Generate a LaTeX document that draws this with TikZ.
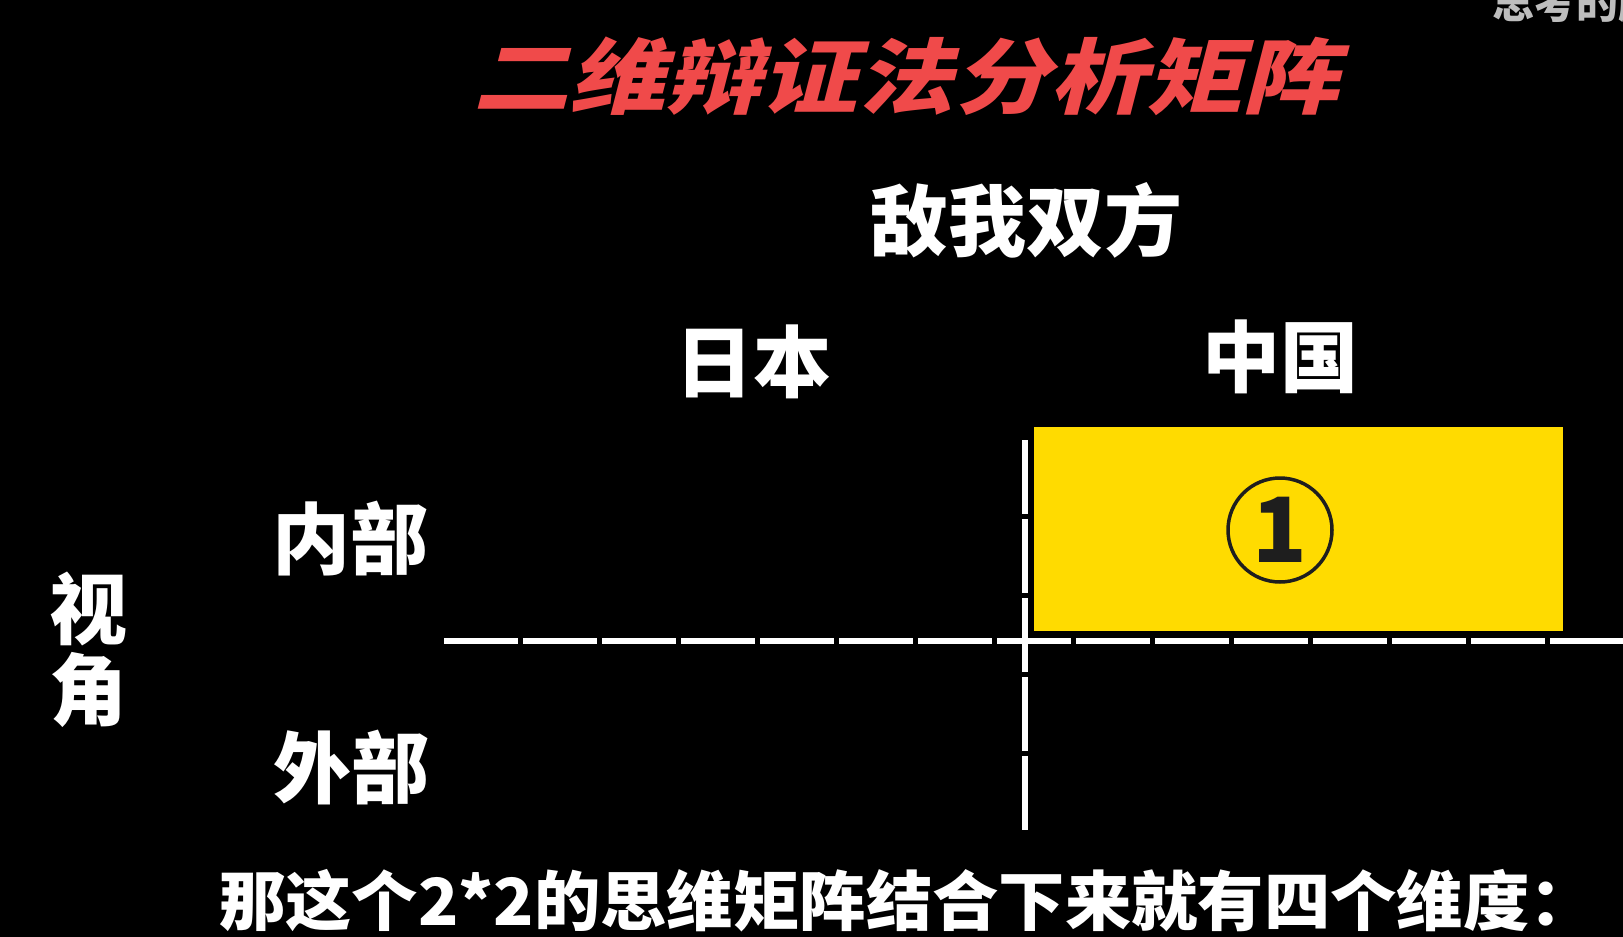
\documentclass[tikz,border=0pt]{standalone}
\usepackage{fontspec}
\newfontfamily\cjk{Noto Sans CJK SC}
\newfontfamily\cjkslant{Noto Sans CJK SC}[FakeSlant=0.22]
\definecolor{titlered}{HTML}{F04A4A}
\definecolor{boxyellow}{HTML}{FFDB00}
\definecolor{wmgray}{HTML}{BDBDBD}
\definecolor{inkdark}{HTML}{1E1E1E}
\begin{document}
\begin{tikzpicture}[x=1pt,y=-1pt,
  lbl/.style={text=white, inner sep=0pt, font=\cjk\bfseries\fontsize{78}{78}\selectfont},
  axisline/.style={white, line width=6pt, dash pattern=on 74pt off 5pt}]
\fill[black] (0,0) rectangle (1623,937);
\useasboundingbox (0,0) rectangle (1623,937);
\clip (0,0) rectangle (1623,937);

% watermark
\node[anchor=base west, inner sep=0pt, text=wmgray, font=\cjk\bfseries\fontsize{42}{42}\selectfont] (wm) at (1492,18) {思考的鹏};

% title
\node[inner sep=0pt, text=titlered, font=\cjkslant\bfseries\fontsize{82}{82}\selectfont] (title) at (906,76) {\scalebox{1.172}[1]{二维辩证法分析矩阵}};

% headers
\node[lbl] (both) at (1026,220) {敌我双方};
\node[lbl] (japan) at (753,362) {日本};
\node[lbl] (china) at (1280,357) {中国};
\node[lbl] (inner) at (350,539) {内部};
\node[lbl] (outer) at (351,767) {外部};
\node[lbl] (shi) at (88,609) {视};
\node[lbl] (jiao) at (88,690) {角};

% axes
\coordinate (vtop) at (1025,440);
\coordinate (vbot) at (1025,830);
\coordinate (hleft) at (444,641);
\coordinate (hright) at (1630,641);
\draw[axisline] (vtop) -- (vbot);
\draw[axisline] (hleft) -- (hright);

% quadrant 1
\node[fill=boxyellow, minimum width=529pt, minimum height=204pt, inner sep=0pt] (q1) at (1298.5,529) {};
\node[circle, draw=inkdark, line width=3.5pt, minimum size=104pt, inner sep=0pt, text=inkdark, font=\cjk\bfseries\fontsize{90}{90}\selectfont] (c1) at (1280,530) {1};

% bottom caption
\node[anchor=west, inner sep=0pt, text=white, font=\cjk\bfseries\fontsize{65}{65}\selectfont] (caption) at (219,901) {\scalebox{1.021}[1]{那这个2*2的思维矩阵结合下来就有四个维度：}};
\end{tikzpicture}
\end{document}
